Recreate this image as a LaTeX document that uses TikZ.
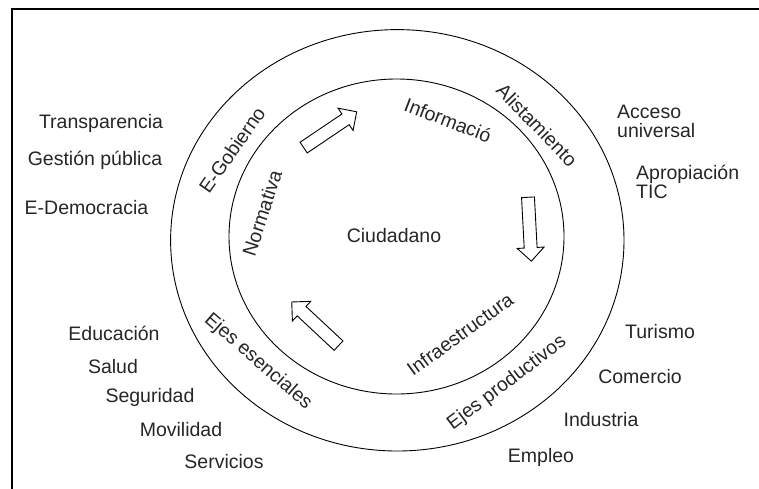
\documentclass[tikz,border=0pt]{standalone}
\usepackage{fontspec}
\setmainfont{Liberation Sans}
\usetikzlibrary{shapes.arrows}
\tikzset{
  lbl/.style={font=\fontsize{19.5}{19}\selectfont, text=black!85, inner sep=0pt},
  ring/.style={draw, line width=0.9pt},
  blockarrow/.style={draw, line width=0.9pt, single arrow, single arrow head extend=7pt,
    inner sep=6pt, minimum height=64pt}
}
\begin{document}
\begin{tikzpicture}[x=1pt,y=-1pt]
\useasboundingbox (0,0) rectangle (759,488);
\draw[line width=2.5pt] (12,9) rectangle (790,520);
% rings
\coordinate (co) at (397.3,240.3);
\coordinate (ci) at (396.5,236.5);
\draw[ring] (co) ellipse [x radius=226.7pt, y radius=210.7pt];
\draw[ring] (ci) ellipse [x radius=167.5pt, y radius=157.5pt];
\node[lbl] (ciud) at (394,236) {Ciudadano};
% inner ring
\node[lbl, rotate=72] (norm) at (262,213) {Normativa};
\node[lbl, rotate=-21] (info) at (448,120) {Informació};
\node[lbl, rotate=36] (infra) at (460,334) {Infraestructura};
% outer ring
\node[lbl, rotate=55] (egob) at (232,150) {E-Gobierno};
\node[lbl, rotate=-46] (alist) at (537,125) {Alistamiento};
\node[lbl, rotate=37] (eprod) at (507,383) {Ejes productivos};
\node[lbl, rotate=-41] (eesen) at (258,362) {Ejes esenciales};
% arrows
\node[blockarrow, rotate=34] (a1) at (327.5,131.5) {};
\node[blockarrow, rotate=-87] (a2) at (529.5,226) {};
\node[blockarrow, rotate=137] (a3) at (317.5,326) {};
% outside
\node[lbl] (transp) at (101,123) {Transparencia};
\node[lbl] (gest) at (95,160) {Gestión pública};
\node[lbl] (edem) at (86.5,208) {E-Democracia};
\node[lbl, anchor=west, align=left] (acc) at (617,121) {Acceso\\universal};
\node[lbl, anchor=west, align=left] (apro) at (636,182) {Apropiación\\TIC};
\node[lbl] (edu) at (114,333) {Educación};
\node[lbl] (sal) at (113,367) {Salud};
\node[lbl] (seg) at (150,397) {Seguridad};
\node[lbl] (mov) at (181,430) {Movilidad};
\node[lbl] (serv) at (224,462) {Servicios};
\node[lbl] (tur) at (660,332) {Turismo};
\node[lbl] (com) at (640,377) {Comercio};
\node[lbl] (ind) at (601,420) {Industria};
\node[lbl] (emp) at (541,457) {Empleo};
\end{tikzpicture}
\end{document}
